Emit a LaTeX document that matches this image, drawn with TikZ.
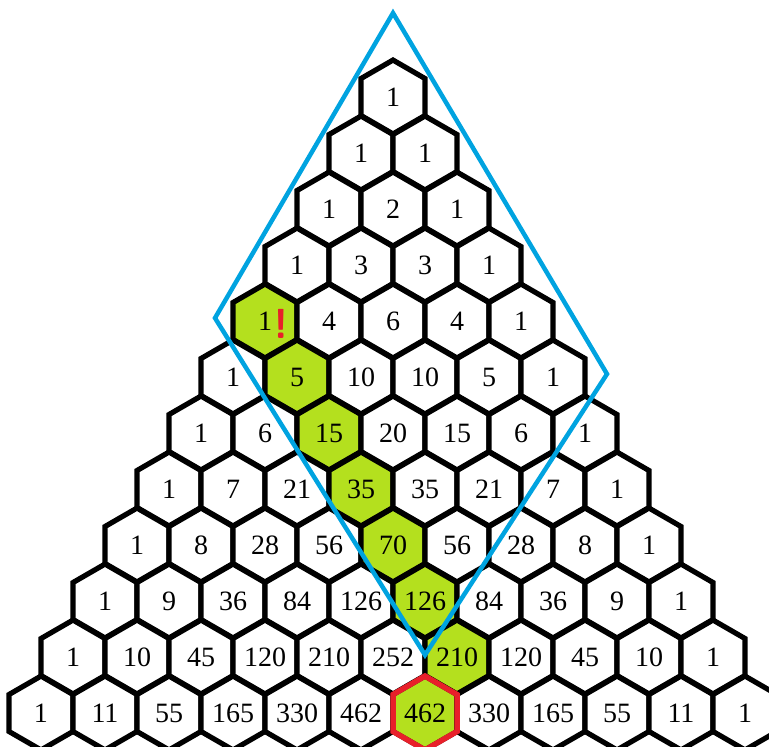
\documentclass[tikz,border=0pt]{standalone}
\usepackage{fontspec}
\setmainfont{Liberation Serif}
\usepackage{xcolor}
\usetikzlibrary{shapes.geometric}
\definecolor{rimblue}{HTML}{00A3E0}
\definecolor{pathgreen}{HTML}{B4E01E}
\definecolor{endred}{HTML}{E8202A}

\begin{document}
\begin{tikzpicture}[x=1pt, y=-1pt,
      hexcell/.style={draw=black, line width=5.2pt, regular polygon, regular polygon sides=6,
        shape border rotate=30, minimum size=73.9pt, inner sep=0pt,
        font=\fontsize{28}{30}\selectfont},
      endrim/.style={draw=endred, line width=5.5pt, line join=miter},
      rimline/.style={draw=rimblue, line width=4.5pt, line join=miter},
      warnmark/.style={text=endred, inner sep=0pt, font=\fontsize{42}{42}\sffamily\bfseries}]

      \useasboundingbox (0,0) rectangle (769,747);

      % --- Pascal rows, one hexagon per entry ---
      \foreach \vals [count=\r from 0] in {{1},{1,1},{1,2,1},{1,3,3,1},{1,4,6,4,1},
          {1,5,10,10,5,1},{1,6,15,20,15,6,1},{1,7,21,35,35,21,7,1},
          {1,8,28,56,70,56,28,8,1},{1,9,36,84,126,126,84,36,9,1},
          {1,10,45,120,210,252,210,120,45,10,1},
          {1,11,55,165,330,462,462,330,165,55,11,1}} {
        \foreach \v [count=\k from 0] in \vals {
          \pgfmathtruncatemacro\onpath{(\k==\r-4 && \r>=4 && \r<=10) || (\r==11 && \k==6)}
          \ifnum\onpath=1 \def\cellfill{pathgreen}\else\def\cellfill{white}\fi
          \node[hexcell, fill=\cellfill] (h-\r-\k) at ({393+(\k-\r/2)*64}, {97+\r*56}) {\v};
        }
      }

      % --- Warning mark beside the first green 1 ---
      \node[warnmark] (bang) at (281,324) {!};

      % --- Red rim round the last cell ---
      \draw[endrim] (h-11-6.center) ++(90:36.95pt) -- ++(210:36.95pt) -- ++(270:36.95pt)
        -- ++(330:36.95pt) -- ++(30:36.95pt) -- ++(90:36.95pt) -- cycle;

      % --- Blue diamond ---
      \coordinate (apex) at (393,13);
      \coordinate (west) at (215,318);
      \coordinate (foot) at (425,655);
      \coordinate (east) at (607,374);
      \draw[rimline] (apex) -- (west) -- (foot) -- (east) -- cycle;

\end{tikzpicture}
\end{document}
